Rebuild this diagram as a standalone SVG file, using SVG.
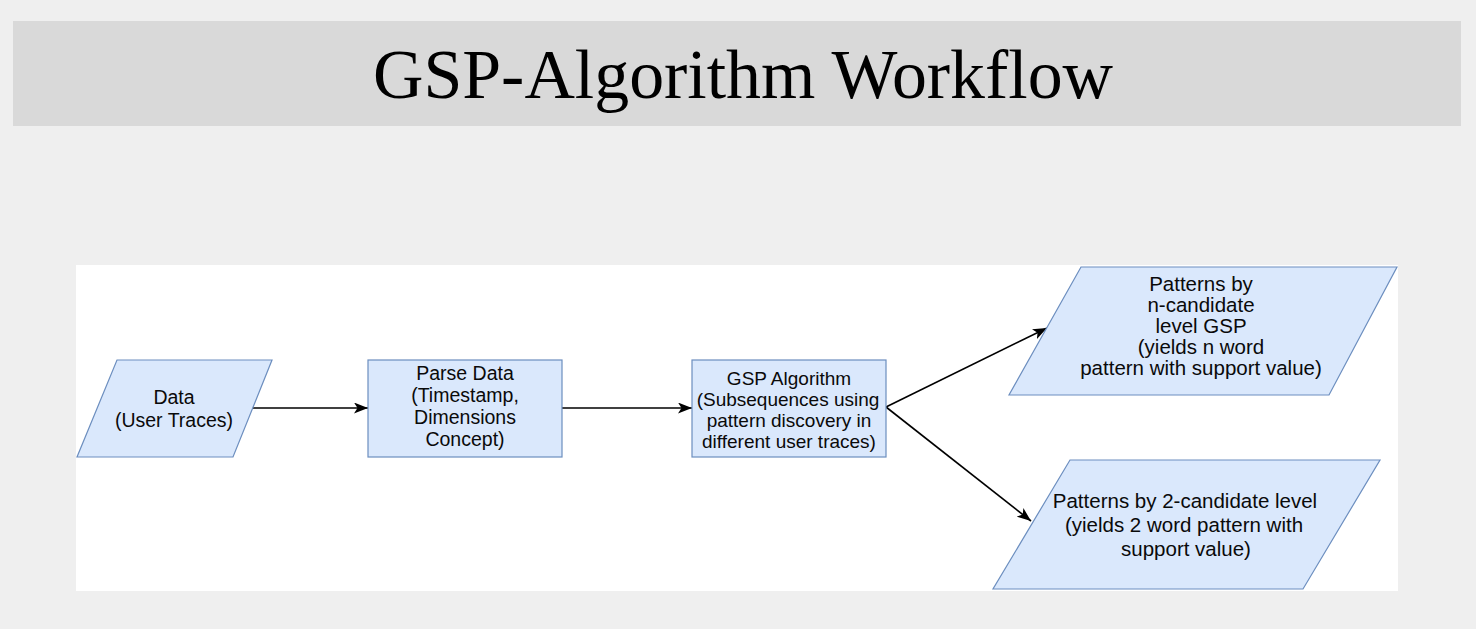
<svg xmlns="http://www.w3.org/2000/svg" width="1476" height="629" viewBox="0 0 1476 629">
  <style>
    .node { fill: #dae8fc; stroke: #6c8ebf; stroke-width: 1.2; }
    .lbl { font-family: "Liberation Sans", Arial, sans-serif; fill: #0a0a0a; text-anchor: middle; }
    .edge { stroke: #000; stroke-width: 1.6; fill: none; }
    .title { font-family: "Liberation Serif", "Times New Roman", serif; font-size: 70px; fill: #000; text-anchor: middle; }
  </style>
  <defs>
    <marker id="arrow" viewBox="0 0 14 11" refX="14" refY="5.5" markerWidth="14" markerHeight="11" markerUnits="userSpaceOnUse" orient="auto">
      <path d="M0,0 L14,5.5 L0,11 L3.5,5.5 z" fill="#000"/>
    </marker>
  </defs>

  <rect x="0" y="0" width="1476" height="629" fill="#efefef"/>
  <g id="header">
    <rect x="13" y="21" width="1448" height="105" fill="#d9d9d9"/>
    <text class="title" x="743" y="98" textLength="740" lengthAdjust="spacingAndGlyphs">GSP-Algorithm Workflow</text>
  </g>
  <rect id="panel" x="76" y="265" width="1322" height="326" fill="#ffffff"/>

  <g id="connectors">
    <line class="edge" x1="252" y1="408" x2="368" y2="408" marker-end="url(#arrow)"/>
    <line class="edge" x1="562" y1="408" x2="692" y2="408" marker-end="url(#arrow)"/>
    <line class="edge" x1="886" y1="407" x2="1047" y2="328" marker-end="url(#arrow)"/>
    <line class="edge" x1="886" y1="407" x2="1031" y2="521" marker-end="url(#arrow)"/>
  </g>

  <g id="node-data">
    <polygon class="node" points="117,360 272,360 233,457 77,457"/>
    <text class="lbl" font-size="19.5" x="174" y="404">Data</text>
    <text class="lbl" font-size="19.5" x="174" y="427">(User Traces)</text>
  </g>

  <g id="node-parse">
    <rect class="node" x="368" y="360" width="194" height="97"/>
    <text class="lbl" font-size="19.5" x="465" y="380">Parse Data</text>
    <text class="lbl" font-size="19.5" x="465" y="402">(Timestamp,</text>
    <text class="lbl" font-size="19.5" x="465" y="424">Dimensions</text>
    <text class="lbl" font-size="19.5" x="465" y="446">Concept)</text>
  </g>

  <g id="node-gsp">
    <rect class="node" x="692" y="360" width="194" height="97"/>
    <text class="lbl" font-size="19" x="789" y="385">GSP Algorithm</text>
    <text class="lbl" font-size="19" x="788" y="406">(Subsequences using</text>
    <text class="lbl" font-size="19" x="789" y="427">pattern discovery in</text>
    <text class="lbl" font-size="19" x="789" y="448">different user traces)</text>
  </g>

  <g id="node-ncandidate">
    <polygon class="node" points="1081,267 1397,267 1329,395 1009,395"/>
    <text class="lbl" font-size="20.5" x="1201" y="291">Patterns by</text>
    <text class="lbl" font-size="20.5" x="1201" y="312">n-candidate</text>
    <text class="lbl" font-size="20.5" x="1201" y="333">level GSP</text>
    <text class="lbl" font-size="20.5" x="1201" y="354">(yields n word</text>
    <text class="lbl" font-size="20.5" x="1201" y="375">pattern with support value)</text>
  </g>

  <g id="node-2candidate">
    <polygon class="node" points="1070,460 1380,460 1303,589 993,589"/>
    <text class="lbl" font-size="20.5" x="1185" y="508">Patterns by 2-candidate level</text>
    <text class="lbl" font-size="20.5" x="1184" y="532">(yields 2 word pattern with</text>
    <text class="lbl" font-size="20.5" x="1186" y="556">support value)</text>
  </g>
</svg>
